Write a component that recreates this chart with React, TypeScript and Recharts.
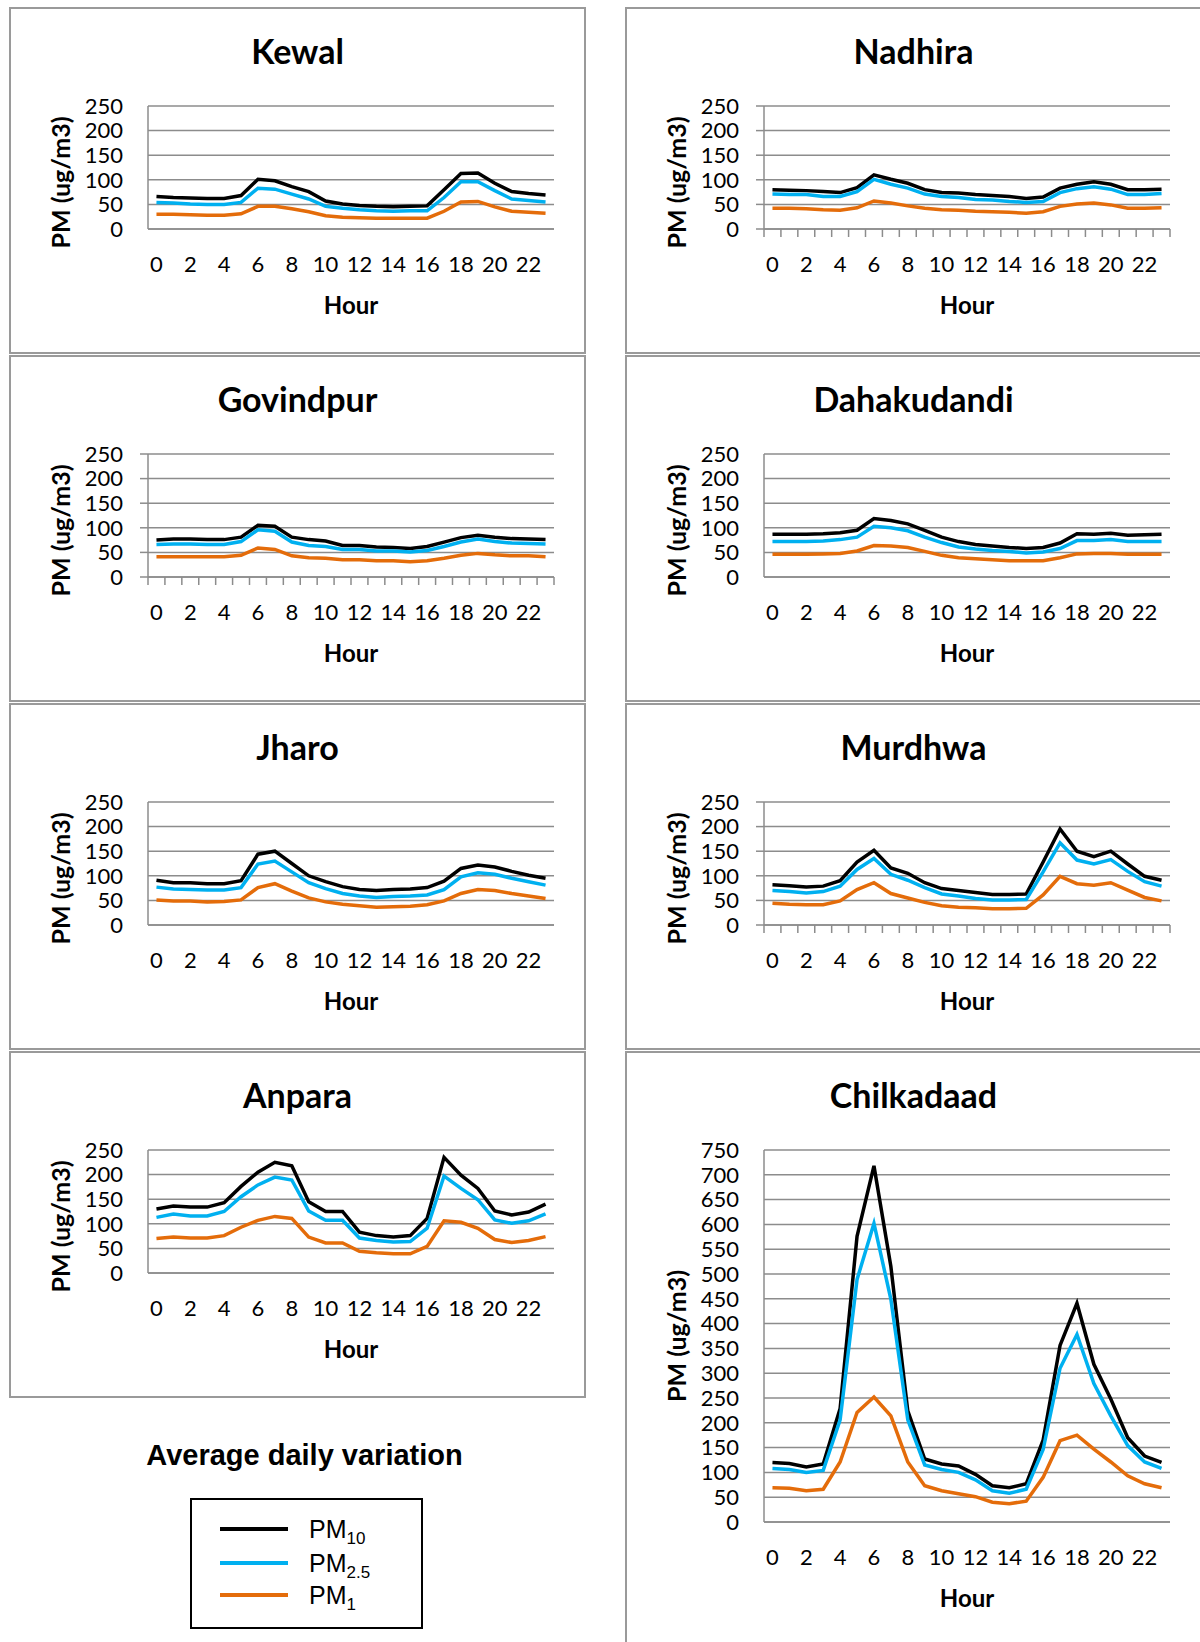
import React from "react";
import { LineChart, Line, XAxis, YAxis, CartesianGrid, Label } from "recharts";

// hours of the day and axis ticks
const hours = [0, 1, 2, 3, 4, 5, 6, 7, 8, 9, 10, 11, 12, 13, 14, 15, 16, 17, 18, 19, 20, 21, 22, 23];
const hourLabels = [0, 2, 4, 6, 8, 10, 12, 14, 16, 18, 20, 22];
const hourEdges = [-0.5, 0.5, 1.5, 2.5, 3.5, 4.5, 5.5, 6.5, 7.5, 8.5, 9.5, 10.5, 11.5, 12.5, 13.5, 14.5, 15.5, 16.5, 17.5, 18.5, 19.5, 20.5, 21.5, 22.5, 23.5];
const smallTicks = [0, 50, 100, 150, 200, 250];
const bigTicks = [0, 50, 100, 150, 200, 250, 300, 350, 400, 450, 500, 550, 600, 650, 700, 750];

const kewalPm10 = [66, 64, 63, 62, 62, 68, 101, 98, 86, 76, 57, 51, 48, 46, 45, 46, 47, 80, 113, 114, 93, 76, 72, 69];
const kewalPm25 = [54, 53, 51, 50, 50, 54, 83, 81, 71, 61, 46, 42, 39, 37, 36, 37, 37, 64, 96, 96, 78, 61, 58, 55];
const kewalPm1 = [30, 30, 29, 28, 28, 31, 46, 46, 41, 35, 27, 24, 23, 22, 22, 22, 22, 36, 55, 56, 45, 36, 34, 32];

const nadhiraPm10 = [80, 79, 78, 76, 74, 84, 110, 101, 93, 80, 74, 73, 70, 68, 66, 62, 65, 83, 91, 96, 91, 80, 80, 81];
const nadhiraPm25 = [71, 70, 70, 66, 66, 76, 101, 91, 83, 71, 66, 64, 60, 59, 56, 54, 56, 74, 82, 86, 81, 70, 70, 72];
const nadhiraPm1 = [42, 42, 41, 39, 38, 43, 57, 53, 47, 42, 39, 38, 36, 35, 34, 32, 35, 46, 51, 53, 49, 42, 42, 43];

const govindpurPm10 = [75, 77, 77, 76, 76, 81, 105, 103, 81, 76, 73, 64, 64, 61, 60, 58, 62, 71, 80, 85, 81, 78, 77, 76];
const govindpurPm25 = [66, 67, 67, 66, 66, 72, 96, 93, 71, 64, 62, 56, 56, 53, 53, 51, 54, 62, 71, 77, 72, 69, 68, 67];
const govindpurPm1 = [41, 41, 41, 41, 41, 44, 59, 56, 43, 39, 38, 35, 35, 33, 33, 31, 33, 38, 44, 48, 45, 43, 43, 41];

const dahakudandiPm10 = [87, 87, 87, 88, 90, 95, 119, 115, 108, 95, 81, 72, 66, 63, 60, 58, 60, 69, 88, 87, 89, 85, 86, 87];
const dahakudandiPm25 = [72, 72, 72, 73, 76, 81, 103, 100, 94, 81, 70, 61, 57, 54, 52, 49, 51, 58, 74, 74, 76, 72, 72, 72];
const dahakudandiPm1 = [46, 46, 46, 47, 48, 53, 64, 63, 60, 52, 44, 39, 37, 35, 33, 33, 33, 39, 47, 48, 48, 46, 46, 46];

const jharoPm10 = [91, 86, 86, 84, 84, 90, 144, 150, 125, 100, 88, 78, 72, 70, 72, 73, 76, 89, 115, 122, 118, 109, 101, 95];
const jharoPm25 = [77, 73, 72, 71, 71, 76, 124, 130, 108, 86, 74, 64, 59, 56, 58, 59, 61, 72, 98, 106, 103, 95, 88, 81];
const jharoPm1 = [51, 49, 49, 47, 48, 51, 76, 84, 69, 55, 47, 42, 39, 36, 37, 38, 41, 49, 64, 72, 70, 64, 59, 54];

const murdhwaPm10 = [82, 80, 77, 79, 90, 128, 152, 116, 105, 86, 74, 70, 66, 62, 62, 63, 128, 195, 150, 139, 150, 124, 99, 91];
const murdhwaPm25 = [70, 68, 65, 68, 79, 113, 135, 103, 91, 76, 63, 59, 54, 51, 51, 52, 108, 167, 132, 124, 133, 109, 88, 79];
const murdhwaPm1 = [44, 42, 41, 41, 49, 72, 86, 64, 55, 46, 39, 36, 35, 33, 33, 34, 61, 99, 84, 81, 86, 71, 56, 49];

const anparaPm10 = [130, 136, 134, 134, 143, 176, 205, 225, 218, 145, 125, 125, 83, 76, 73, 76, 111, 235, 199, 172, 126, 118, 124, 140];
const anparaPm25 = [113, 120, 116, 116, 125, 155, 179, 195, 189, 126, 107, 107, 71, 66, 63, 64, 91, 197, 172, 149, 108, 101, 106, 120];
const anparaPm1 = [70, 73, 71, 71, 76, 93, 107, 115, 111, 73, 61, 61, 44, 41, 39, 39, 54, 106, 103, 91, 68, 62, 66, 74];

const chilkadaadPm10 = [120, 118, 111, 117, 229, 576, 718, 515, 224, 127, 117, 113, 96, 73, 69, 77, 165, 356, 441, 318, 248, 170, 133, 120];
const chilkadaadPm25 = [108, 106, 100, 104, 206, 489, 602, 449, 206, 115, 106, 100, 85, 63, 58, 66, 146, 310, 378, 279, 214, 154, 121, 108];
const chilkadaadPm1 = [69, 68, 63, 66, 121, 221, 252, 214, 121, 73, 63, 57, 51, 40, 37, 42, 90, 164, 175, 147, 121, 93, 77, 69];

const stations = [
  { name: "Kewal", pm10: kewalPm10, pm25: kewalPm25, pm1: kewalPm1, yTicks: smallTicks, marks: false },
  { name: "Nadhira", pm10: nadhiraPm10, pm25: nadhiraPm25, pm1: nadhiraPm1, yTicks: smallTicks, marks: true },
  { name: "Govindpur", pm10: govindpurPm10, pm25: govindpurPm25, pm1: govindpurPm1, yTicks: smallTicks, marks: true },
  { name: "Dahakudandi", pm10: dahakudandiPm10, pm25: dahakudandiPm25, pm1: dahakudandiPm1, yTicks: smallTicks, marks: false },
  { name: "Jharo", pm10: jharoPm10, pm25: jharoPm25, pm1: jharoPm1, yTicks: smallTicks, marks: false },
  { name: "Murdhwa", pm10: murdhwaPm10, pm25: murdhwaPm25, pm1: murdhwaPm1, yTicks: smallTicks, marks: true },
  { name: "Anpara", pm10: anparaPm10, pm25: anparaPm25, pm1: anparaPm1, yTicks: smallTicks, marks: false },
  { name: "Chilkadaad", pm10: chilkadaadPm10, pm25: chilkadaadPm25, pm1: chilkadaadPm1, yTicks: bigTicks, marks: false },
];

const series = [
  { key: "pm10", sub: "10", color: "#000000" },
  { key: "pm25", sub: "2.5", color: "#00b0f0" },
  { key: "pm1", sub: "1", color: "#e46c0a" },
];

// where each panel sits on the page
const slots = [
  { left: 9, top: 7, height: 347, plotHeight: 123 },
  { left: 625, top: 7, height: 347, plotHeight: 123 },
  { left: 9, top: 355, height: 347, plotHeight: 123 },
  { left: 625, top: 355, height: 347, plotHeight: 123 },
  { left: 9, top: 703, height: 347, plotHeight: 123 },
  { left: 625, top: 703, height: 347, plotHeight: 123 },
  { left: 9, top: 1051, height: 347, plotHeight: 123 },
  { left: 625, top: 1051, height: 600, plotHeight: 372 },
];

const GRID = "#8c8c8c";
const FONT = "Lato, 'Open Sans', sans-serif";
const PANEL_W = 577;
const PLOT_LEFT = 139;
const PLOT_RIGHT = 545;
const PLOT_TOP = 99;
const X_AXIS_H = 60;

function Panel({ station, slot }) {
  const plotBottom = PLOT_TOP + slot.plotHeight;
  const yMax = station.yTicks[station.yTicks.length - 1];
  const data = hours.map((h, i) => ({ hour: h, pm10: station.pm10[i], pm25: station.pm25[i], pm1: station.pm1[i] }));
  const xTicks = [...hourEdges, ...hourLabels].sort((a, b) => a - b);
  const yLabelY = (PLOT_TOP + plotBottom) / 2 + (slot.plotHeight < 200 ? 15 : 0);

  const renderXTick = (props) => {
    const { x, payload } = props;
    const v = payload.value;
    if (!Number.isInteger(v)) {
      return station.marks ? <line x1={x} x2={x} y1={plotBottom} y2={plotBottom + 8} stroke={GRID} strokeWidth={1.5} /> : <g />;
    }
    return (
      <text x={x} y={plotBottom + 34} textAnchor="middle" dominantBaseline="central" fontFamily={FONT} fontSize={22} fill="#000">
        {v}
      </text>
    );
  };

  return (
    <div
      style={{
        position: "absolute",
        left: slot.left,
        top: slot.top,
        width: PANEL_W,
        height: slot.height,
        boxSizing: "border-box",
        border: "2px solid #9a9a9a",
        background: "#fff",
      }}
    >
      <div style={{ position: "absolute", left: -2, top: -2, width: PANEL_W, height: slot.height }}>
        <div
          style={{
            position: "absolute",
            left: 0,
            width: PANEL_W,
            top: 24,
            textAlign: "center",
            fontFamily: FONT,
            fontWeight: 700,
            fontSize: 34,
            lineHeight: "40px",
            color: "#000",
          }}
        >
          {station.name}
        </div>
        <LineChart
          width={PANEL_W}
          height={slot.height}
          data={data}
          margin={{ top: PLOT_TOP, left: 0, right: PANEL_W - PLOT_RIGHT, bottom: slot.height - plotBottom - X_AXIS_H }}
          style={{ position: "absolute", left: 0, top: 0 }}
        >
          <CartesianGrid vertical={false} stroke={GRID} strokeWidth={1.5} />
          <XAxis
            dataKey="hour"
            type="number"
            domain={[-0.5, 23.5]}
            ticks={xTicks}
            interval={0}
            height={X_AXIS_H}
            tick={renderXTick}
            tickLine={false}
            axisLine={{ stroke: GRID, strokeWidth: 1.5 }}
          >
            <Label
              content={() => (
                <text x={(PLOT_LEFT + PLOT_RIGHT) / 2} y={plotBottom + 75} textAnchor="middle" dominantBaseline="central" fontFamily={FONT} fontWeight={700} fontSize={24} fill="#000">
                  Hour
                </text>
              )}
            />
          </XAxis>
          <YAxis
            type="number"
            domain={[0, yMax]}
            ticks={station.yTicks}
            interval={0}
            width={PLOT_LEFT}
            tickSize={8}
            tickMargin={17}
            tickLine={station.marks ? { stroke: GRID, strokeWidth: 1.5 } : false}
            axisLine={{ stroke: GRID, strokeWidth: 1.5 }}
            tick={{ fill: "#000", fontSize: 22, fontFamily: FONT }}
          >
            <Label
              content={() => (
                <text
                  x={51}
                  y={yLabelY}
                  transform={`rotate(-90, 51, ${yLabelY})`}
                  textAnchor="middle"
                  dominantBaseline="central"
                  fontFamily={FONT}
                  fontWeight={700}
                  fontSize={25}
                  fill="#000"
                >
                  PM (ug/m3)
                </text>
              )}
            />
          </YAxis>
          {series.map((s) => (
            <Line key={s.key} type="linear" dataKey={s.key} stroke={s.color} strokeWidth={3.5} dot={false} activeDot={false} isAnimationActive={false} />
          ))}
        </LineChart>
      </div>
    </div>
  );
}

function LegendBlock() {
  const legendFont = "'Liberation Sans', Arial, sans-serif";
  const rowsY = [129, 163, 195];
  return (
    <svg width={600} height={242} style={{ position: "absolute", left: 0, top: 1400 }}>
      <text x={304.5} y={55} textAnchor="middle" dominantBaseline="central" fontFamily={legendFont} fontWeight={700} fontSize={29} fill="#000">
        Average daily variation
      </text>
      <rect x={191} y={99} width={231} height={129} fill="#fff" stroke="#000" strokeWidth={2} />
      {series.map((s, i) => (
        <g key={s.key}>
          <line x1={220} x2={288} y1={rowsY[i]} y2={rowsY[i]} stroke={s.color} strokeWidth={4} />
          <text x={309} y={rowsY[i] + 9} fontFamily={legendFont} fontSize={25} fill="#000">
            PM
            <tspan fontSize={17} dy={6}>
              {s.sub}
            </tspan>
          </text>
        </g>
      ))}
    </svg>
  );
}

export default function App() {
  return (
    <div style={{ position: "absolute", left: 0, top: 0, width: 1200, height: 1642, overflow: "hidden", background: "#fff" }}>
      {stations.map((st, i) => (
        <Panel key={st.name} station={st} slot={slots[i]} />
      ))}
      <LegendBlock />
    </div>
  );
}
